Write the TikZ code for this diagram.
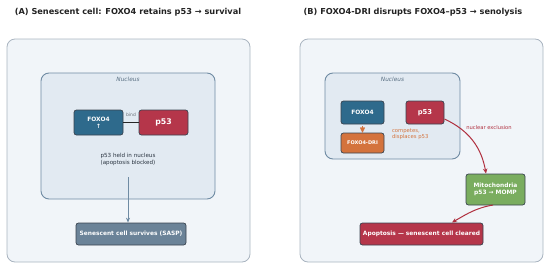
\documentclass[tikz,border=0pt]{standalone}
\usepackage{fontspec}
\setmainfont{DejaVu Sans}
\usetikzlibrary{arrows.meta}
\definecolor{panelfill}{HTML}{F1F5F9}
\definecolor{panelline}{HTML}{A9B4C0}
\definecolor{nucfill}{HTML}{E2EAF2}
\definecolor{nucline}{HTML}{6F8BA3}
\definecolor{foxblue}{HTML}{2E6A8C}
\definecolor{pred}{HTML}{B5364A}
\definecolor{dri}{HTML}{D4733D}
\definecolor{mito}{HTML}{7AAD5F}
\definecolor{sasp}{HTML}{6B8398}
\definecolor{arrred}{HTML}{B0303F}
\definecolor{boxline}{HTML}{3A4450}
\definecolor{titlecol}{HTML}{222222}
\definecolor{txtcol}{HTML}{2A3440}
\tikzset{
  panel/.style={draw=panelline, fill=panelfill, line width=0.8pt, rounded corners=8pt},
  nucleus/.style={draw=nucline, fill=nucfill, line width=0.9pt, rounded corners=8pt},
  mbox/.style={draw=boxline, line width=0.7pt, rounded corners=2.5pt, text=white, font=\bfseries\fontsize{5.9}{7}\selectfont, align=center, inner sep=0pt},
  ttl/.style={font=\bfseries\fontsize{8.2}{10}\selectfont, text=titlecol},
  small/.style={font=\fontsize{5.6}{6.6}\selectfont, text=txtcol, align=center},
  nuclbl/.style={font=\itshape\fontsize{5.8}{7}\selectfont, text=nucline!80!black},
}
\begin{document}
\begin{tikzpicture}[x=1pt,y=-1pt]
\useasboundingbox (0,0) rectangle (550,271);
% titles
\node[ttl] (tA) at (128,12) {(A) Senescent cell: FOXO4 retains p53 → survival};
\node[ttl] (tB) at (413,12) {(B) FOXO4-DRI disrupts FOXO4–p53 → senolysis};
% panels
\node[panel, minimum width=243pt, minimum height=223pt] (pA) at (128.5,150.5) {};
\node[panel, minimum width=243pt, minimum height=223pt] (pB) at (421.5,150.5) {};
% ---- Panel A
\node[nucleus, minimum width=174pt, minimum height=126pt] (nA) at (128,136) {};
\node[nuclbl] (nAl) at (128,79.5) {Nucleus};
\node[mbox, fill=foxblue, minimum width=49pt, minimum height=25pt] (fA) at (98.5,122.5) {FOXO4\\↑};
\node[mbox, fill=pred, minimum width=49pt, minimum height=25pt, font=\bfseries\fontsize{7.8}{9}\selectfont] (pA53) at (163.5,122.5) {p53};
\draw[line width=1.3pt, black!85] (fA.east) -- (pA53.west) node[midway, above=1.5pt, font=\fontsize{4.5}{5}\selectfont, text=txtcol!70] {bind};
\node[small] (held) at (128,159.5) {p53 held in nucleus\\(apoptosis blocked)};
\node[mbox, fill=sasp, minimum width=110pt, minimum height=22pt] (sa) at (131,234) {Senescent cell survives (SASP)};
\coordinate (aS) at (128,177);
\draw[-{Stealth[length=5pt,width=4pt]}, draw=nucline, line width=1pt] (aS) -- (aS |- sa.north);
% ---- Panel B
\node[nucleus, minimum width=135pt, minimum height=86pt] (nB) at (392.5,116) {};
\node[nuclbl] (nBl) at (392.5,79.5) {Nucleus};
\node[mbox, fill=foxblue, minimum width=43pt, minimum height=23pt] (fB) at (362.5,112.5) {FOXO4};
\node[mbox, fill=pred, minimum width=38pt, minimum height=23pt, font=\bfseries\fontsize{6.8}{8}\selectfont] (pB53) at (425,112.5) {p53};
\node[mbox, fill=dri, minimum width=43pt, minimum height=20pt, font=\bfseries\fontsize{5}{6}\selectfont] (dr) at (362.5,143) {FOXO4-DRI};
\draw[-{Triangle[length=5pt,width=5pt]}, draw=dri, line width=0.1pt] (fB.south) ++(0,2) -- (dr.north);
\node[font=\fontsize{5.3}{6.2}\selectfont, text=dri, align=left, anchor=west] (comp) at (388.5,134.5) {competes,\\displaces p53};
\node[mbox, fill=mito, minimum width=59pt, minimum height=31pt] (mi) at (495.5,189.5) {Mitochondria\\p53 → MOMP};
\node[mbox, fill=pred, minimum width=123pt, minimum height=22pt] (ap) at (421.5,234) {Apoptosis — senescent cell cleared};
\coordinate (pBs) at (444.5,119);
\coordinate (miN) at (486,173.5);
\draw[-{Stealth[length=5pt,width=4.5pt]}, draw=arrred, line width=1pt] (pBs) to[out=-25,in=100] (miN);
\node[font=\fontsize{5.2}{6}\selectfont, text=arrred] (nex) at (489,128) {nuclear exclusion};
\coordinate (miS) at (493,205);
\coordinate (apN) at (452,222.5);
\draw[-{Stealth[length=5pt,width=4.5pt]}, draw=arrred, line width=1pt] (miS) to[out=190,in=30] (apN);
\end{tikzpicture}
\end{document}
